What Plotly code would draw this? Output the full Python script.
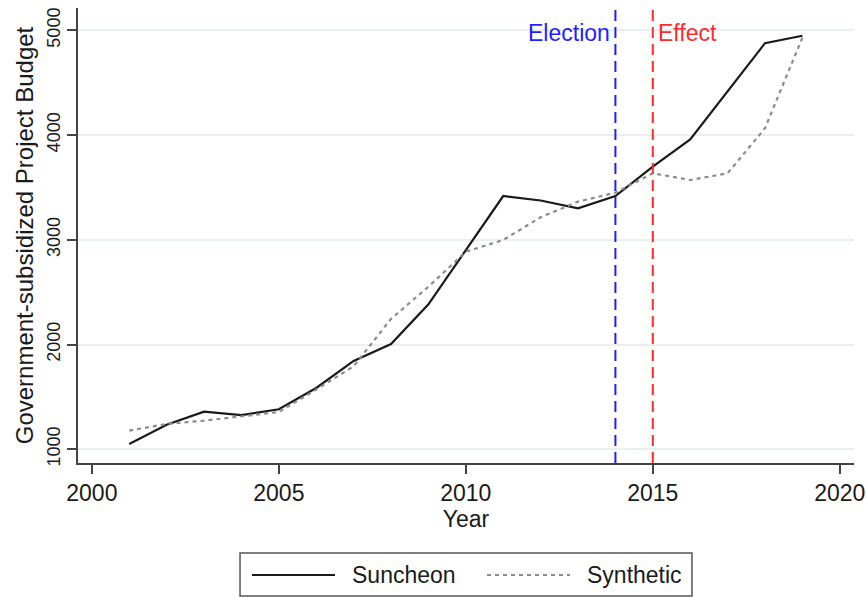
import plotly.graph_objects as go

# Annual government-subsidized project budget
years = list(range(2001, 2020))
suncheon = [1050, 1235, 1359, 1327, 1382, 1585, 1843, 2005, 2384, 2900,
            3418, 3375, 3300, 3418, 3698, 3958, 4418, 4877, 4948]
synthetic = [1178, 1242, 1273, 1311, 1356, 1570, 1792, 2245, 2552, 2886,
             2998, 3215, 3364, 3450, 3635, 3571, 3635, 4065, 4930]

election_year = 2014
effect_year = 2015

x_ticks = [2000, 2005, 2010, 2015, 2020]
y_ticks = [1000, 2000, 3000, 4000, 5000]

series_names = ["Suncheon", "Synthetic"]
series_colors = ["#1a1a1a", "#8c8c8c"]
series_dash = ["solid", "4px,4px"]

FONT = "Liberation Sans, Arial, sans-serif"

fig = go.Figure()
for name, vals, color, dash in zip(series_names, [suncheon, synthetic],
                                   series_colors, series_dash):
    fig.add_trace(go.Scatter(
        x=years, y=vals, mode="lines", name=name,
        line=dict(color=color, width=2.2, dash=dash),
    ))

# Treatment markers
fig.add_vline(x=election_year, line=dict(color="#1f1fff", width=2, dash="11px,6px"))
fig.add_vline(x=effect_year, line=dict(color="#ff2a2a", width=2, dash="11px,6px"))
fig.add_annotation(x=election_year, y=1.0, yref="y domain", yanchor="top", xanchor="right",
                   xshift=-3, yshift=-10, text="Election", showarrow=False,
                   font=dict(color="#1f1fff", size=23, family=FONT))
fig.add_annotation(x=effect_year, y=1.0, yref="y domain", yanchor="top", xanchor="left",
                   xshift=3, yshift=-10, text="Effect", showarrow=False,
                   font=dict(color="#ff2a2a", size=23, family=FONT))

# Legend box below the plot, drawn in paper coordinates
box_x0, box_x1 = 0.2088, 0.7912
box_y0, box_y1 = -0.2923, -0.1978
fig.add_shape(type="rect", xref="paper", yref="paper",
              x0=box_x0, x1=box_x1, y0=box_y0, y1=box_y1,
              line=dict(color="#555555", width=1.5), fillcolor="white")
legend_y = -0.2462
sample_x = [(0.2242, 0.3312), (0.5271, 0.6340)]
label_x = [0.3505, 0.6534]
for name, color, dash, (sx0, sx1), lx in zip(series_names, series_colors,
                                             series_dash, sample_x, label_x):
    fig.add_shape(type="line", xref="paper", yref="paper",
                  x0=sx0, x1=sx1, y0=legend_y, y1=legend_y,
                  line=dict(color=color, width=2.2, dash=dash))
    fig.add_annotation(x=lx, y=legend_y, xref="paper", yref="paper",
                       xanchor="left", yanchor="middle", text=name,
                       showarrow=False, font=dict(size=23, family=FONT, color="#1a1a1a"))

fig.update_layout(
    width=866, height=597,
    margin=dict(l=78, r=12, t=8, b=134, autoexpand=False),
    paper_bgcolor="white", plot_bgcolor="white",
    font=dict(family=FONT, color="#1a1a1a"),
    showlegend=False,
    xaxis=dict(
        range=[1999.63, 2020.38], tickvals=x_ticks,
        showline=True, linecolor="#444444", linewidth=1.5,
        ticks="outside", ticklen=9, tickcolor="#444444", tickwidth=1.5,
        showgrid=False, zeroline=False,
        tickfont=dict(size=23, family=FONT),
        title=dict(text="Year", font=dict(size=23, family=FONT), standoff=4),
    ),
    yaxis=dict(
        range=[869, 5213], tickvals=y_ticks, tickangle=-90,
        showline=True, linecolor="#444444", linewidth=1.5,
        ticks="outside", ticklen=9, tickcolor="#444444", tickwidth=1.5,
        showgrid=True, gridcolor="#eaf0f2", gridwidth=1.5, zeroline=False,
        tickfont=dict(size=18, family=FONT),
        title=dict(text="Government-subsidized Project Budget",
                   font=dict(size=24, family=FONT), standoff=4),
    ),
)

fig.write_html("out.html")
